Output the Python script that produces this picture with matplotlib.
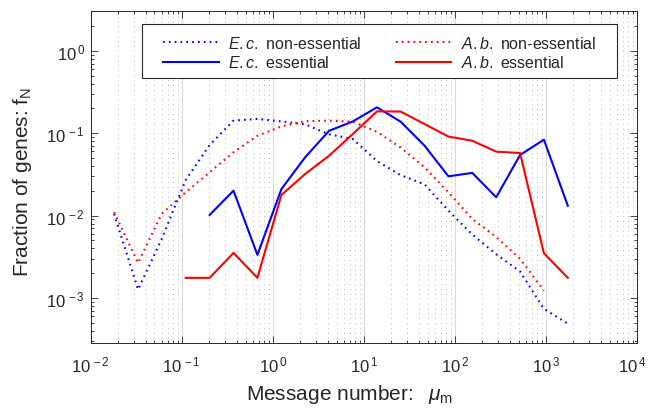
import matplotlib
matplotlib.use('Agg')

import numpy as np
import matplotlib.pyplot as plt
from matplotlib.ticker import LogLocator, NullFormatter, FuncFormatter
from matplotlib.patches import Rectangle
from matplotlib.transforms import ScaledTranslation

######### data
# message number bins (log spaced)
MSG_BINS = [0.018, 0.033, 0.060, 0.110, 0.202, 0.369, 0.676, 1.24, 2.26, 4.14,
            7.57, 13.9, 25.3, 46.3, 84.8, 155, 284, 519, 949, 1737]

# E.c. non-essential (bins 0..19)
ec_noness = [0.0105, 0.00127, 0.0052, 0.027, 0.072, 0.142, 0.149, 0.139, 0.128, 0.097,
             0.085, 0.046, 0.031, 0.024, 0.0115, 0.0059, 0.0034, 0.0021, 0.00074, 0.00049]
# A.b. non-essential (bins 0..18)
ab_noness = [0.011, 0.00267, 0.0105, 0.0192, 0.0336, 0.0587, 0.093, 0.121, 0.140, 0.142,
             0.138, 0.104, 0.067, 0.0386, 0.0192, 0.0091, 0.0055, 0.0030, 0.00123]
# E.c. essential (bins 4..19)
ec_ess = [0.0102, 0.0201, 0.00334, 0.021, 0.051, 0.107, 0.139, 0.206, 0.138, 0.0706,
          0.030, 0.033, 0.0167, 0.0544, 0.0834, 0.0132]
# A.b. essential (bins 3..19)
ab_ess = [0.00176, 0.00176, 0.00353, 0.00176, 0.0178, 0.032, 0.0533, 0.098, 0.184, 0.183,
          0.129, 0.091, 0.081, 0.0597, 0.0575, 0.0035, 0.00176]

X_TICKS = [1e-2, 1e-1, 1e0, 1e1, 1e2, 1e3, 1e4]
Y_TICKS = [1e-3, 1e-2, 1e-1, 1e0]

######### style
plt.rcParams['font.family'] = ['Liberation Sans', 'DejaVu Sans']
plt.rcParams['mathtext.fontset'] = 'custom'
plt.rcParams['mathtext.rm'] = 'Liberation Sans'
plt.rcParams['mathtext.it'] = 'Liberation Sans:italic'
plt.rcParams['mathtext.bf'] = 'Liberation Sans:bold'
TXT = '#262626'
DOT = (0, (0.8, 2.0))


def pow10(v, pos):
    # MATLAB style 10^n with a small gap before the exponent
    return r'$\mathregular{10^{\,%d}}$' % int(round(np.log10(v)))


fig = plt.figure(figsize=(6.49, 4.14), dpi=100, facecolor='w')
ax = fig.add_axes([0.140, 0.169, 0.8415, 0.801])

x = np.array(MSG_BINS)
ax.plot(x[:len(ec_noness)], ec_noness, color='blue', lw=1.5, linestyle=DOT,
        label=r'$\it{E.c.}$ non-essential')
ax.plot(x[4:4 + len(ec_ess)], ec_ess, color='blue', lw=1.5, linestyle='-',
        label=r'$\it{E.c.}$ essential')
ax.plot(x[:len(ab_noness)], ab_noness, color='red', lw=1.5, linestyle=DOT,
        label=r'$\it{A.b.}$ non-essential')
ax.plot(x[3:3 + len(ab_ess)], ab_ess, color='red', lw=1.5, linestyle='-',
        label=r'$\it{A.b.}$ essential')

ax.set_xscale('log')
ax.set_yscale('log')
ax.set_xlim(1e-2, 1e4)
ax.set_ylim(2.85e-4, 3.0)
ax.set_xticks(X_TICKS)
ax.set_yticks(Y_TICKS)
ax.xaxis.set_major_formatter(FuncFormatter(pow10))
ax.yaxis.set_major_formatter(FuncFormatter(pow10))
ax.xaxis.set_minor_locator(LogLocator(base=10, subs=np.arange(2, 10), numticks=20))
ax.yaxis.set_minor_locator(LogLocator(base=10, subs=np.arange(2, 10), numticks=20))
ax.xaxis.set_minor_formatter(NullFormatter())
ax.yaxis.set_minor_formatter(NullFormatter())

# x grid only (major solid, minor dotted)
ax.grid(True, axis='x', which='major', color='#d8d8d8', lw=0.8, linestyle='-')
ax.grid(True, axis='x', which='minor', color='#b8b8b8', lw=0.7, linestyle=(0, (1, 4)))
ax.set_axisbelow(True)

ax.tick_params(which='both', direction='in', top=True, right=True, colors=TXT,
               labelsize=12, width=0.6)
ax.tick_params(which='major', length=5)
ax.tick_params(which='minor', length=2.5)
ax.tick_params(axis='x', which='major', pad=8.5)
ax.tick_params(axis='y', which='major', pad=4)
for sp in ax.spines.values():
    sp.set_color(TXT)
    sp.set_linewidth(0.7)

# last x label pushed left a bit so it stays inside the figure (as in MATLAB)
last = ax.get_xticklabels()[-1]
last.set_horizontalalignment('right')
last.set_transform(last.get_transform() + ScaledTranslation(7 / 72, 0, fig.dpi_scale_trans))

ax.set_xlabel(r'Message number: $\;\;\mu_{\mathrm{m}}$', fontsize=15, color=TXT)
ax.set_ylabel(r'Fraction of genes: f$_{\mathrm{N}}$', fontsize=15, color=TXT)
ax.xaxis.set_label_coords(0.474, -0.117)
ax.yaxis.set_label_coords(-0.104, 0.49)

# legend box drawn separately (MATLAB leaves wide margins)
box = Rectangle((0.0934, 0.7994), 0.870, 0.163, transform=ax.transAxes,
                facecolor='white', edgecolor=TXT, lw=0.8, zorder=4)
ax.add_patch(box)
leg = ax.legend(ncol=2, loc='upper left', bbox_to_anchor=(0.132, 0.929), fontsize=11.5,
                handlelength=3.5, handletextpad=0.6, columnspacing=2.1,
                labelspacing=0.2, borderpad=0, borderaxespad=0, frameon=False)
leg.set_zorder(5)
for t in leg.get_texts():
    t.set_color(TXT)

fig.savefig('out.png', dpi=100)
